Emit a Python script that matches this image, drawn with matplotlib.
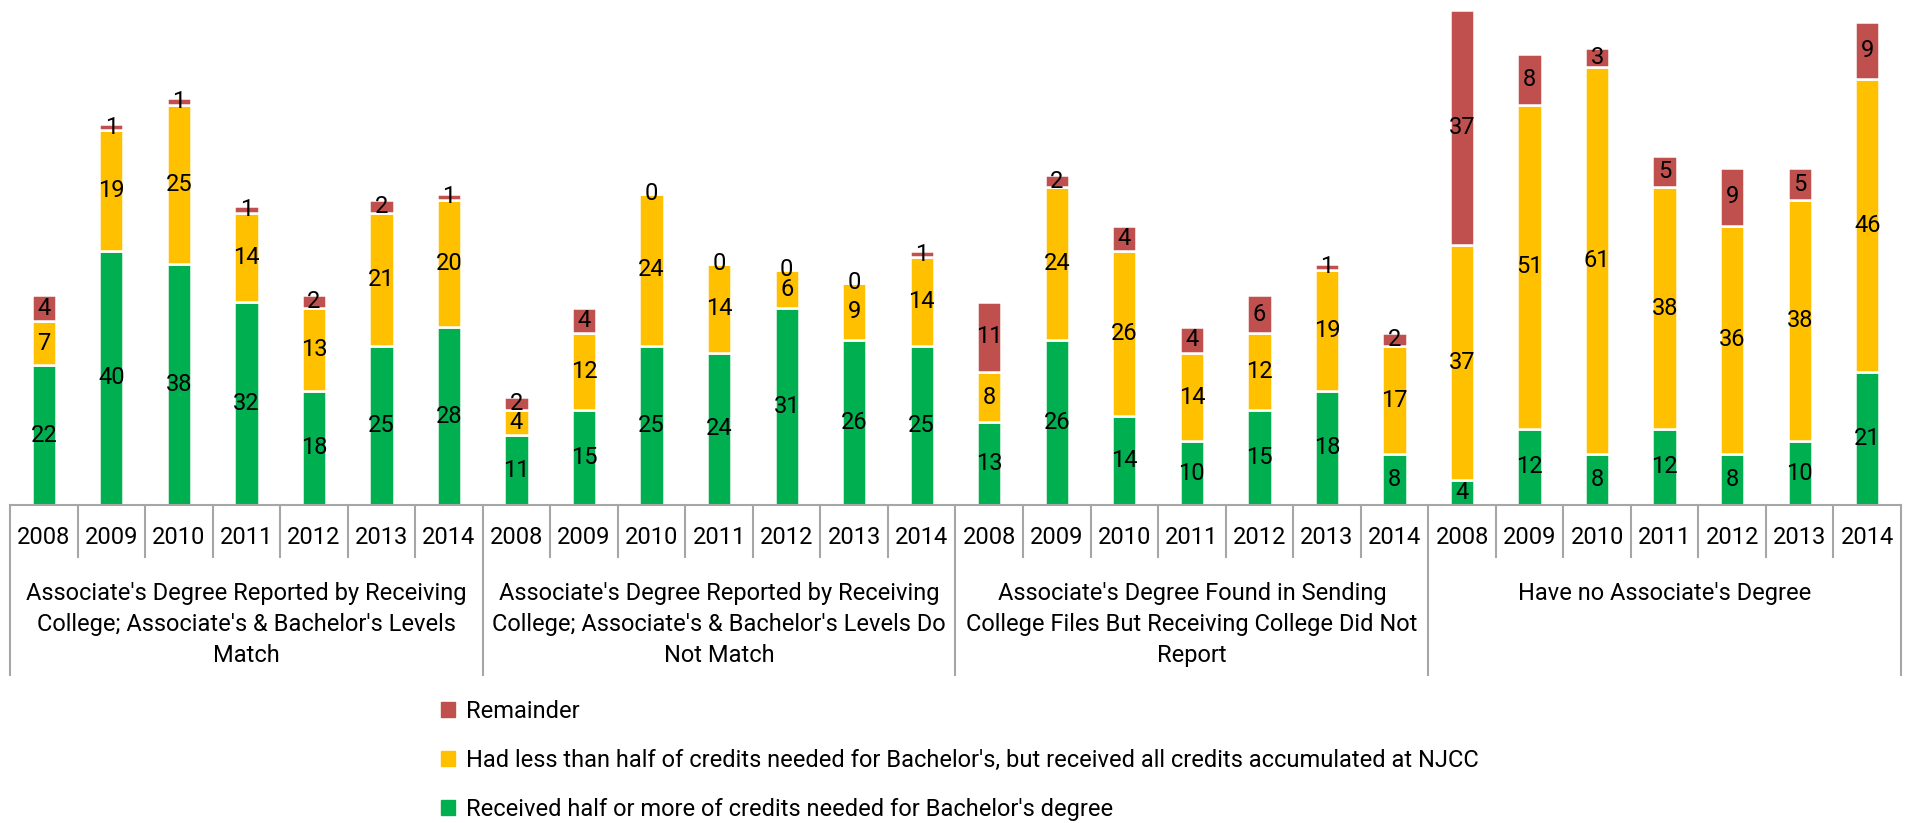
import matplotlib
matplotlib.use("Agg")
from matplotlib import pyplot as plt
from matplotlib import transforms
from matplotlib.patches import Patch
import numpy as np

plt.rcParams['font.family'] = ['Roboto', 'DejaVu Sans']

years = ['2008', '2009', '2010', '2011', '2012', '2013', '2014']
groups = [
    "Associate's Degree Reported by Receiving\nCollege; Associate's & Bachelor's Levels\nMatch",
    "Associate's Degree Reported by Receiving\nCollege; Associate's & Bachelor's Levels Do\nNot Match",
    "Associate's Degree Found in Sending\nCollege Files But Receiving College Did Not\nReport",
    "Have no Associate's Degree",
]
series_names = ["Received half or more of credits needed for Bachelor's degree",
                "Had less than half of credits needed for Bachelor's, but received all credits accumulated at NJCC",
                "Remainder"]

received_half = [22, 40, 38, 32, 18, 25, 28,
                 11, 15, 25, 24, 31, 26, 25,
                 13, 26, 14, 10, 15, 18, 8,
                 4, 12, 8, 12, 8, 10, 21]
less_than_half = [7, 19, 25, 14, 13, 21, 20,
                  4, 12, 24, 14, 6, 9, 14,
                  8, 24, 26, 14, 12, 19, 17,
                  37, 51, 61, 38, 36, 38, 46]
remainder = [4, 1, 1, 1, 2, 2, 1,
             2, 4, 0, 0, 0, 0, 1,
             11, 2, 4, 4, 6, 1, 2,
             37, 8, 3, 5, 9, 5, 9]

colors = ['#00B050', '#FFC000', '#C0504D']
fs = 17

W, H = 1911, 823
fig = plt.figure(figsize=(W / 100, H / 100), dpi=100)
base_px = 505
ax = fig.add_axes([10 / W, (H - base_px) / H, 1891 / W, base_px / H])

x = np.arange(len(received_half))
bottom = np.zeros(len(x))
for vals, col in zip([received_half, less_than_half, remainder], colors):
    vals = np.array(vals, dtype=float)
    ax.bar(x, vals, 0.36, bottom=bottom, color=col, edgecolor='white', linewidth=1.8)
    for xi, b, v in zip(x, bottom, vals):
        ax.text(xi, b + v / 2, str(int(v)), ha='center', va='center', fontsize=fs, color='black')
    bottom += vals

ax.set_xlim(-0.5, len(x) - 0.5)
ax.set_ylim(0, 79.5)
ax.axis('off')

# category axis table
tr = transforms.blended_transform_factory(ax.transData, ax.transAxes)
line_col = '#A6A6A6'
ax.plot([-0.5, len(x) - 0.5], [0, 0], color=line_col, lw=1.5, transform=tr, clip_on=False)
yr_bottom = -(557 - base_px) / base_px
grp_bottom = -(675 - base_px) / base_px
for i in range(len(x) + 1):
    b = grp_bottom if i % 7 == 0 else yr_bottom
    ax.plot([i - 0.5, i - 0.5], [0, b], color=line_col, lw=1.5, transform=tr, clip_on=False)
for i in range(len(x)):
    ax.text(i, -(537 - base_px) / base_px, years[i % 7], ha='center', va='center',
            fontsize=fs, transform=tr)

renderer = fig.canvas.get_renderer()
slot_px = 1891 / len(x) * 7
for g, name in enumerate(groups):
    t = ax.text(g * 7 + 3, -(582 - base_px) / base_px, name, ha='center', va='top',
                fontsize=fs, linespacing=1.45, transform=tr)
    size = fs
    while t.get_window_extent(renderer).width > slot_px - 10 and size > 10:
        size -= 0.25
        t.set_fontsize(size)

handles = [Patch(color=c) for c in colors[::-1]]
fig.legend(handles, series_names[::-1], loc='upper left',
           bbox_to_anchor=(441 / W, 1 - 700 / H), frameon=False, fontsize=fs,
           borderpad=0, borderaxespad=0, handlelength=0.6, handleheight=0.6,
           handletextpad=0.45, labelspacing=1.1)

fig.savefig('out.png', dpi=100)
